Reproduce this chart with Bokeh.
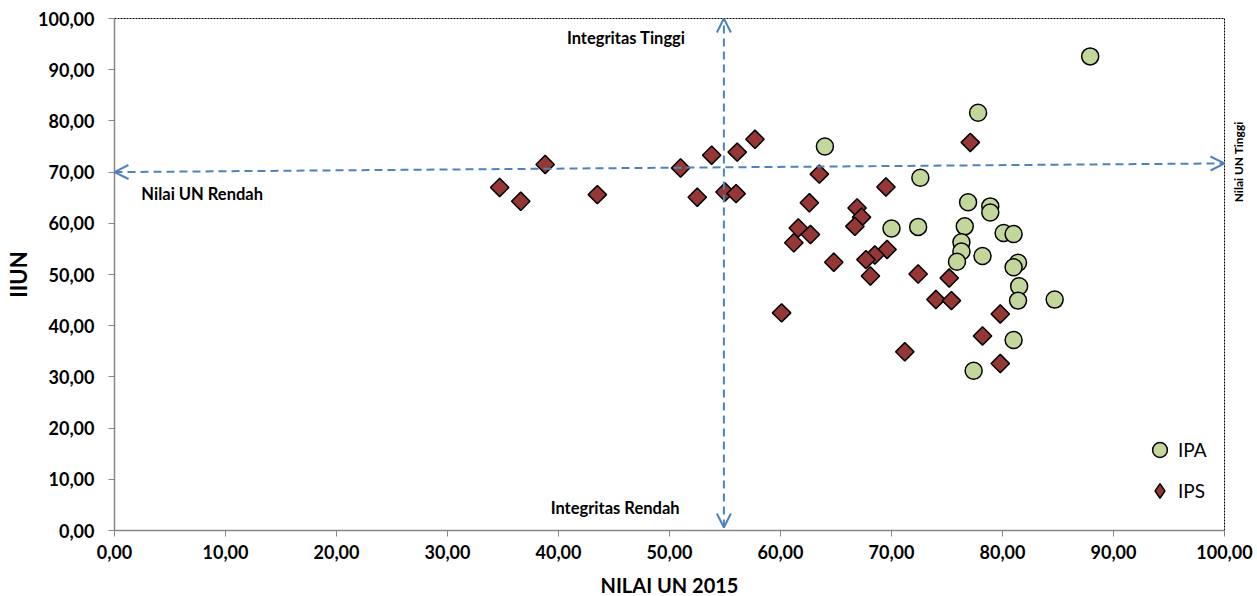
import numpy as np
from bokeh.plotting import figure
from bokeh.models import (ColumnDataSource, Arrow, OpenHead, Label, FixedTicker,
                          Legend, LegendItem, Range1d, LinearAxis)
from bokeh.embed import file_html
from bokeh.resources import INLINE

# ---- data ----
ipa_x = [64.0, 77.8, 72.6, 76.9, 78.9, 78.9, 70.0, 72.4, 76.6, 80.1, 81.0, 76.3,
         76.3, 78.2, 75.9, 81.4, 81.0, 81.5, 81.4, 84.7, 81.0, 77.4, 87.9]
ipa_y = [75.0, 81.6, 68.9, 64.1, 63.3, 62.1, 59.0, 59.3, 59.4, 58.1, 57.9, 56.3,
         54.5, 53.6, 52.5, 52.3, 51.4, 47.7, 44.9, 45.1, 37.2, 31.2, 92.6]

ips_x = [34.7, 36.6, 38.8, 43.5, 51.0, 52.5, 53.8, 55.0, 56.0, 56.1, 57.7, 63.5,
         62.6, 61.6, 62.7, 61.2, 64.8, 60.1, 77.1, 69.5, 66.9, 67.3, 66.7, 69.6,
         68.5, 67.7, 68.1, 72.4, 75.2, 74.0, 75.4, 79.8, 78.2, 71.2, 79.8]
ips_y = [67.0, 64.3, 71.5, 65.6, 70.8, 65.1, 73.3, 66.1, 65.8, 73.9, 76.4, 69.6,
         64.0, 59.1, 57.8, 56.2, 52.4, 42.5, 75.8, 67.1, 63.0, 61.2, 59.4, 54.9,
         53.8, 52.9, 49.7, 50.1, 49.3, 45.1, 44.9, 42.3, 38.0, 34.9, 32.6]

ticks = [0, 10, 20, 30, 40, 50, 60, 70, 80, 90, 100]
tick_labels = ["0,00", "10,00", "20,00", "30,00", "40,00", "50,00", "60,00",
               "70,00", "80,00", "90,00", "100,00"]
series_names = ["IPA", "IPS"]

FONT = "Lato"
BLUE = "#4f81bd"
IPA_FILL = "#c3d69b"
IPS_FILL = "#953735"

p = figure(frame_width=1110, frame_height=512,
           output_backend="svg", toolbar_location=None,
           x_range=Range1d(0, 100), y_range=Range1d(0, 100),
           min_border_left=114, min_border_right=20, min_border_top=18,
           min_border_bottom=58)
p.xgrid.visible = False
p.ygrid.visible = False
p.outline_line_color = "#000000"
p.outline_line_dash = "2 1"
p.outline_line_width = 1
p.background_fill_color = "white"
p.border_fill_color = "white"

overrides = {t: l for t, l in zip(ticks, tick_labels)}
for ax in (p.xaxis[0], p.yaxis[0]):
    ax.ticker = FixedTicker(ticks=ticks)
    ax.major_label_overrides = overrides
    ax.minor_tick_line_color = None
    ax.major_tick_in = 0
    ax.major_tick_out = 6
    ax.axis_line_color = "#868686"
    ax.axis_line_width = 1.5
    ax.major_tick_line_color = "#868686"
    ax.major_label_text_font = FONT
    ax.major_label_text_font_style = "bold"
    ax.major_label_text_font_size = "18px"
    ax.major_label_text_color = "black"
    ax.axis_label_text_font = FONT
    ax.axis_label_text_font_style = "bold"
    ax.axis_label_text_font_size = "20px"
    ax.axis_label_text_color = "black"

p.xaxis.axis_label = "NILAI UN 2015"
p.yaxis.axis_label = "IIUN"
p.yaxis.axis_label_text_font_size = "22px"
p.yaxis.major_label_standoff = 14
p.xaxis.major_label_standoff = 8
p.xaxis.axis_label_standoff = 11
p.yaxis.axis_label_standoff = 3

# right-hand text "Nilai UN Tinggi" rendered as a tick label outside the frame
rax = LinearAxis(ticker=FixedTicker(ticks=[64.1]),
                 major_label_overrides={64.1: "Nilai UN Tinggi"},
                 axis_line_color=None, major_tick_line_color=None,
                 minor_tick_line_color=None, major_tick_out=0, major_tick_in=0,
                 major_label_standoff=14, major_label_orientation=np.pi / 2,
                 major_label_text_font=FONT, major_label_text_font_style="bold",
                 major_label_text_font_size="12px", major_label_text_color="black")
p.add_layout(rax, "right")

src_ipa = ColumnDataSource(dict(x=ipa_x, y=ipa_y))
src_ips = ColumnDataSource(dict(x=ips_x, y=ips_y))

r_ipa = p.scatter("x", "y", source=src_ipa, marker="circle", size=17,
                  fill_color=IPA_FILL, line_color="black", line_width=1.5)
r_ips = p.scatter("x", "y", source=src_ips, marker="square", size=13, angle=np.pi / 4,
                  fill_color=IPS_FILL, line_color="black", line_width=1.5)
# legend-only glyph (no visible point) so the legend shows a diamond
r_ips_leg = p.scatter(x=[np.nan], y=[np.nan], marker="diamond", size=13,
                      fill_color=IPS_FILL, line_color="black", line_width=1.5)

legend = Legend(items=[LegendItem(label=series_names[0], renderers=[r_ipa]),
                       LegendItem(label=series_names[1], renderers=[r_ips_leg])],
                location=(1027, 21), border_line_color=None,
                background_fill_alpha=0, label_text_font=FONT,
                label_text_font_size="19px", label_text_color="black",
                spacing=4, glyph_width=37, glyph_height=37, label_standoff=-17)
p.add_layout(legend)

# ---- arrows ----
def head():
    return OpenHead(size=14, line_color=BLUE, line_width=2)

p.add_layout(Arrow(start=head(), end=head(), x_start=0, y_start=70.0,
                   x_end=100, y_end=71.7, line_color=BLUE, line_width=2,
                   line_dash="8 5"))
p.add_layout(Arrow(start=head(), end=head(), x_start=54.9, y_start=0.6,
                   x_end=54.9, y_end=100, line_color=BLUE, line_width=2,
                   line_dash="8 5"))

# ---- text annotations ----
def lab(x, y, t, size="16.5px"):
    p.add_layout(Label(x=x, y=y, text=t, text_font=FONT, text_font_style="bold",
                       text_font_size=size, text_align="center",
                       text_baseline="middle", text_color="black"))

lab(46.1, 96.2, "Integritas Tinggi")
lab(45.1, 4.3, "Integritas Rendah")
lab(7.9, 65.8, "Nilai UN Rendah")

open("out.html", "w").write(file_html(p, INLINE))
